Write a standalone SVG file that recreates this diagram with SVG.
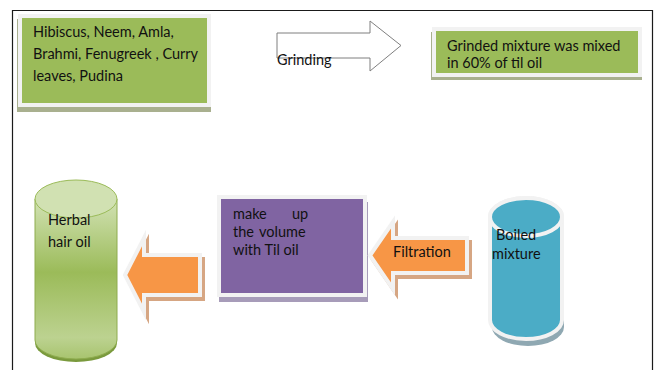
<svg xmlns="http://www.w3.org/2000/svg" width="656" height="370" viewBox="0 0 656 370">
<defs>
<linearGradient id="gBody" x1="0" y1="199" x2="0" y2="362" gradientUnits="userSpaceOnUse">
<stop offset="0" stop-color="#d2e2b4"/>
<stop offset="0.45" stop-color="#9bbb59"/>
<stop offset="0.85" stop-color="#bcd290"/>
<stop offset="1" stop-color="#a5c26a"/>
</linearGradient>
<style>
.t{font-family:Lato,"Liberation Sans",sans-serif;font-size:14.5px;fill:#111111}
.gbox{fill:#9bbb59;stroke:#f2f2f2;stroke-width:4}
.arw{fill:#f79646;stroke:#f2f2f2;stroke-width:4;stroke-linejoin:miter;stroke-miterlimit:10}
.arwsh{fill:#d6a683;stroke:#d6a683;stroke-width:4;stroke-linejoin:miter;stroke-miterlimit:10}
</style>
</defs>
<rect width="656" height="370" fill="#ffffff"/>
<path d="M12.5,370 V10.5 H652.5 V370" fill="none" stroke="#1a1a1a" stroke-width="1.2"/>

<g id="node-herbs">
<rect x="17" y="19" width="194" height="93" fill="#a9b08f"/>
<rect x="20" y="16" width="189" height="89" class="gbox"/>
<text class="t"><tspan x="33" y="37">Hibiscus, Neem, Amla,</tspan><tspan x="33" y="59">Brahmi, Fenugreek , Curry</tspan><tspan x="33" y="81">leaves, Pudina</tspan></text>
</g>

<g id="node-mixed">
<rect x="431" y="32" width="211" height="48" fill="#a9b08f"/>
<rect x="434" y="29" width="206" height="46" class="gbox"/>
<text class="t"><tspan x="447" y="51">Grinded mixture was mixed</tspan><tspan x="447" y="68">in 60% of til oil</tspan></text>
</g>

<g id="node-boiled">
<path d="M490,217 V322 A36,19 0 0 0 562,322 V217 Z" transform="translate(2,5)" fill="#8fa8b2"/>
<path d="M490,217 V320 A36,19 0 0 0 562,320 V217 A36,19 0 0 0 490,217 Z" fill="#4bacc6" stroke="#f2f2f2" stroke-width="4"/>
<ellipse cx="526" cy="217" rx="36" ry="19" fill="#4bacc6" stroke="#f2f2f2" stroke-width="4"/>
<text class="t"><tspan x="496" y="240">Boiled</tspan><tspan x="492" y="259">mixture</tspan></text>
</g>

<g id="node-volume">
<rect x="219" y="202" width="149" height="100" fill="#a79cb9"/>
<rect x="219" y="197" width="146" height="98" fill="#8064a2" stroke="#f2f2f2" stroke-width="4"/>
<text class="t"><tspan x="233" y="219">make</tspan><tspan x="292" y="219">up</tspan><tspan x="233" y="237">the</tspan><tspan x="259" y="237">volume</tspan><tspan x="233" y="255">with Til oil</tspan></text>
</g>

<g id="node-herbal">
<ellipse cx="76" cy="343" rx="41" ry="19" fill="#7a9a3d"/>
<path d="M35,199 V340 A41,19 0 0 0 117,340 V199 Z" fill="url(#gBody)" stroke="#8eac4e" stroke-width="1"/>
<ellipse cx="76" cy="199" rx="41" ry="19" fill="#d1e1b2" stroke="#9bbb59" stroke-width="1"/>
<text class="t"><tspan x="48" y="225">Herbal</tspan><tspan x="48" y="247">hair oil</tspan></text>
</g>

<g id="connectors">
<g id="arrow-grinding">
<path d="M277,33 H370 V21 L401,45.5 L370,71 V58 H277 Z" fill="#ffffff" stroke="#7f7f7f" stroke-width="1"/>
<text class="t" x="277" y="65">Grinding</text>
</g>
<g id="arrow-filtration">
<path d="M370,255.5 L393,222 V238 H467 V273 H393 V289 Z" class="arwsh" transform="translate(3,4)"/>
<path d="M370,255.5 L393,222 V238 H467 V273 H393 V289 Z" class="arw"/>
<text class="t" x="393" y="257">Filtration</text>
</g>
<g id="arrow-final">
<path d="M125,275 L144,238 V255 H200 V295 H144 V312 Z" class="arwsh" transform="translate(3,4)"/>
<path d="M125,275 L144,238 V255 H200 V295 H144 V312 Z" class="arw"/>
</g>
</g>
</svg>
